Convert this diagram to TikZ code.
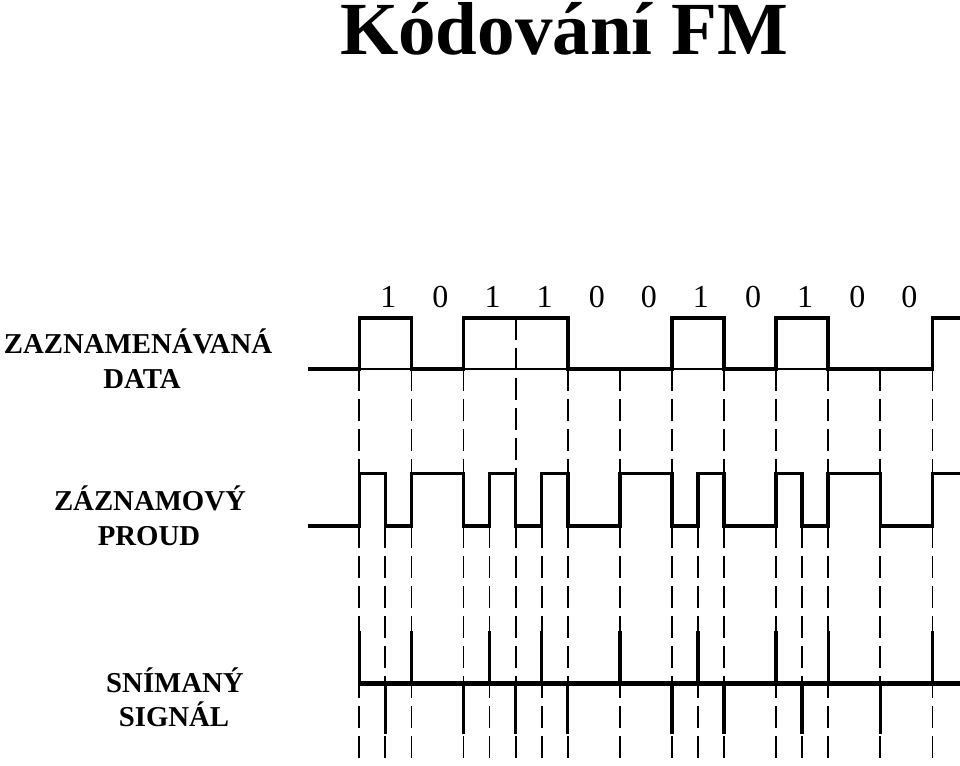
\documentclass[tikz,border=0pt]{standalone}
\usepackage{fontspec}
\setmainfont{Liberation Serif}
\begin{document}
\begin{tikzpicture}[x=1pt,y=-1pt,
  wave/.style={line width=3.6pt,line join=miter},
  base/.style={line width=1.2pt},
  guide/.style={line width=1.8pt,dash pattern=on 22pt off 8pt},
  pulse/.style={line width=3.4pt},
  lbl/.style={font=\fontsize{28.8}{28.8}\selectfont\bfseries,anchor=base,inner sep=0pt},
  bit/.style={font=\fontsize{32}{32}\selectfont,anchor=base,inner sep=0pt}]
\useasboundingbox (0,0) rectangle (960,765);

% title
\node[font=\fontsize{75}{75}\selectfont\bfseries,anchor=base,inner sep=0pt] (title) at (564,55) {Kódování FM};

% left labels
\node[lbl] (l1a) at (138,353) {ZAZNAMENÁVANÁ};
\node[lbl] (l1b) at (142,388) {DATA};
\node[lbl] (l2a) at (150,510) {ZÁZNAMOVÝ};
\node[lbl] (l2b) at (149,545) {PROUD};
\node[lbl] (l3a) at (175,692) {SNÍMANÝ};
\node[lbl] (l3b) at (174,726) {SIGNÁL};

% bit labels
\foreach \b [count=\k from 0] in {1,0,1,1,0,0,1,0,1,0,0}
  \node[bit] (b\k) at ({359.3+52.1*\k+26.05+3},307) {\b};

% guide lines: data -> recording current (bit boundaries)
\foreach \x in {359.3,411.4,463.5,567.7,619.8,671.9,724,776.1,828.2,880.3,932.4}
  \draw[guide] (\x,369) -- (\x,473.3);
\draw[guide] (515.6,317.7) -- (515.6,473.3);

% guide lines: recording current -> bottom (all transitions)
\foreach \x in {359.3,385.35,411.4,463.5,489.55,515.6,541.65,567.7,619.8,671.9,697.95,724,776.1,802.15,828.2,880.3,932.4}
  \draw[guide] (\x,526) -- (\x,762);

% data waveform
\draw[base] (359.3,369) -- (932.4,369);
\draw[wave] (308,369) -- (359.3,369) -- (359.3,317.7) -- (411.4,317.7) -- (411.4,369)
  -- (463.5,369) -- (463.5,317.7) -- (567.7,317.7) -- (567.7,369)
  -- (671.9,369) -- (671.9,317.7) -- (724,317.7) -- (724,369)
  -- (776.1,369) -- (776.1,317.7) -- (828.2,317.7) -- (828.2,369)
  -- (932.4,369) -- (932.4,317.7) -- (960,317.7);

% FM recording current
\draw[wave] (308,526) -- (359.3,526) -- (359.3,473.3) -- (385.35,473.3) -- (385.35,526)
  -- (411.4,526) -- (411.4,473.3) -- (463.5,473.3) -- (463.5,526)
  -- (489.55,526) -- (489.55,473.3) -- (515.6,473.3) -- (515.6,526)
  -- (541.65,526) -- (541.65,473.3) -- (567.7,473.3) -- (567.7,526)
  -- (619.8,526) -- (619.8,473.3) -- (671.9,473.3) -- (671.9,526)
  -- (697.95,526) -- (697.95,473.3) -- (724,473.3) -- (724,526)
  -- (776.1,526) -- (776.1,473.3) -- (802.15,473.3) -- (802.15,526)
  -- (828.2,526) -- (828.2,473.3) -- (880.3,473.3) -- (880.3,526)
  -- (932.4,526) -- (932.4,473.3) -- (960,473.3);

% read signal
\draw[line width=5pt] (359.3,683.3) -- (960,683.3);
\foreach \x in {359.3,411.4,489.55,541.65,619.8,697.95,776.1,828.2,932.4}
  \draw[pulse] (\x,683.3) -- (\x,630.7);
\foreach \x in {385.35,463.5,515.6,567.7,671.9,724,802.15,880.3}
  \draw[pulse] (\x,683.3) -- (\x,734.3);
\end{tikzpicture}
\end{document}
